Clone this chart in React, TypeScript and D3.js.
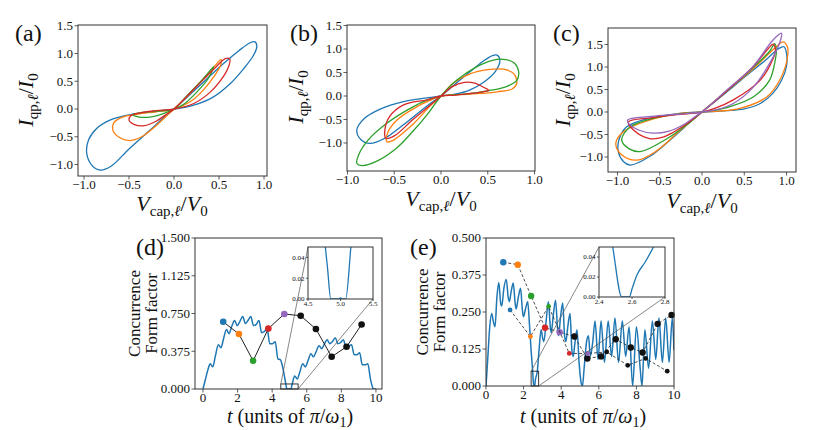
import React from "react";
import * as d3 from "d3";

type P = [number, number];
const C = { blue: "#1f77b4", orange: "#ff7f0e", green: "#2ca02c", red: "#d62728", purple: "#9467bd" };
const FONT = "'Liberation Serif', 'DejaVu Serif', 'Times New Roman', serif";

// ---------- Panel (a) loops ----------
const aBlue: P[] = [[0,0],[0.15,0.22],[0.35,0.52],[0.55,0.82],[0.72,1.05],[0.84,1.19],[0.9,1.21],[0.92,1.12],[0.88,0.96],[0.77,0.72],[0.62,0.45],[0.42,0.2],[0.2,0.06],
  [0,0],[-0.2,-0.04],[-0.45,-0.09],[-0.7,-0.19],[-0.86,-0.35],[-0.95,-0.56],[-0.97,-0.8],[-0.91,-1.02],[-0.82,-1.1],[-0.7,-1.03],[-0.5,-0.72],[-0.28,-0.4],[-0.12,-0.16]];
const aOrange: P[] = [[0,0],[0.15,0.24],[0.3,0.5],[0.45,0.77],[0.52,0.89],[0.52,0.8],[0.45,0.6],[0.33,0.35],[0.18,0.13],
  [0,0],[-0.2,-0.05],[-0.4,-0.09],[-0.58,-0.15],[-0.67,-0.25],[-0.68,-0.38],[-0.61,-0.51],[-0.5,-0.57],[-0.36,-0.5],[-0.2,-0.3],[-0.08,-0.12]];
const aGreen: P[] = [[0,0],[0.15,0.25],[0.3,0.5],[0.44,0.76],[0.38,0.55],[0.25,0.3],[0.12,0.1],
  [0,0],[-0.2,-0.04],[-0.38,-0.07],[-0.46,-0.1],[-0.4,-0.14],[-0.25,-0.14],[-0.1,-0.07]];
const aRed: P[] = [[0,0],[0.15,0.24],[0.32,0.52],[0.48,0.78],[0.57,0.91],[0.62,0.9],[0.6,0.74],[0.52,0.52],[0.4,0.3],[0.22,0.1],
  [0,0],[-0.2,-0.03],[-0.38,-0.07],[-0.48,-0.12],[-0.5,-0.2],[-0.44,-0.28],[-0.33,-0.3],[-0.2,-0.22],[-0.08,-0.09]];

// ---------- Panel (b) loops ----------
const bBlue: P[] = [[0,0],[0.15,0.25],[0.3,0.5],[0.45,0.74],[0.55,0.86],[0.6,0.87],[0.63,0.76],[0.58,0.52],[0.46,0.3],[0.3,0.12],[0.15,0.04],
  [0,0],[-0.15,-0.04],[-0.4,-0.12],[-0.65,-0.28],[-0.82,-0.48],[-0.9,-0.72],[-0.86,-0.92],[-0.76,-1.01],[-0.6,-0.9],[-0.42,-0.64],[-0.25,-0.37],[-0.1,-0.14]];
const bGreen: P[] = [[0,0],[0.17,0.34],[0.38,0.62],[0.55,0.76],[0.67,0.78],[0.78,0.71],[0.83,0.52],[0.81,0.33],[0.7,0.2],[0.5,0.11],[0.25,0.04],
  [0,0],[-0.15,-0.09],[-0.3,-0.23],[-0.58,-0.58],[-0.78,-0.94],[-0.88,-1.25],[-0.9,-1.43],[-0.84,-1.48],[-0.68,-1.38],[-0.47,-1.1],[-0.3,-0.75],[-0.15,-0.4]];
const bOrange: P[] = [[0,0],[0.13,0.27],[0.31,0.47],[0.5,0.56],[0.67,0.57],[0.78,0.47],[0.81,0.27],[0.76,0.15],[0.6,0.09],[0.31,0.04],
  [0,0],[-0.1,-0.08],[-0.26,-0.23],[-0.47,-0.51],[-0.57,-0.78],[-0.58,-0.97],[-0.53,-0.96],[-0.3,-0.6],[-0.12,-0.22]];
const bRed: P[] = [[0,0],[0.12,0.2],[0.25,0.29],[0.35,0.28],[0.47,0.17],[0.51,0.12],[0.45,0.09],[0.3,0.05],[0.15,0.02],
  [0,0],[-0.15,-0.08],[-0.4,-0.19],[-0.55,-0.44],[-0.6,-0.72],[-0.59,-0.9],[-0.5,-0.85],[-0.3,-0.5],[-0.12,-0.2]];

// ---------- Panel (c) loops ----------
const cBlue: P[] = [[0,0],[0.25,0.38],[0.5,0.77],[0.75,1.15],[0.9,1.4],[0.97,1.45],[1.0,1.3],[1.0,1.02],[0.94,0.7],[0.84,0.42],[0.69,0.19],[0.5,0.07],[0.29,0.03],[0.12,0.01],
  [0,0],[-0.26,-0.03],[-0.62,-0.14],[-0.89,-0.33],[-0.98,-0.6],[-0.99,-0.88],[-0.93,-1.1],[-0.85,-1.18],[-0.62,-0.99],[-0.34,-0.56],[-0.12,-0.19]];
const cOrange: P[] = [[0,0],[0.3,0.48],[0.6,0.95],[0.85,1.4],[0.96,1.56],[1.01,1.45],[1.01,1.2],[0.92,0.71],[0.77,0.34],[0.45,0.08],[0.2,0.02],
  [0,0],[-0.3,-0.04],[-0.73,-0.25],[-0.95,-0.47],[-1.02,-0.7],[-0.95,-0.95],[-0.77,-1.07],[-0.55,-0.88],[-0.3,-0.48],[-0.12,-0.19]];
const cGreen: P[] = [[0,0],[0.3,0.48],[0.6,0.98],[0.8,1.35],[0.86,1.52],[0.88,1.35],[0.87,1.19],[0.8,0.71],[0.61,0.34],[0.33,0.12],[0.15,0.04],
  [0,0],[-0.3,-0.05],[-0.6,-0.15],[-0.85,-0.33],[-0.95,-0.62],[-0.86,-0.82],[-0.73,-0.88],[-0.42,-0.6],[-0.15,-0.24]];
const cRed: P[] = [[0,0],[0.3,0.48],[0.6,1.0],[0.78,1.4],[0.84,1.51],[0.87,1.38],[0.85,1.23],[0.69,0.71],[0.37,0.27],[0.15,0.08],
  [0,0],[-0.3,-0.06],[-0.6,-0.13],[-0.87,-0.22],[-0.81,-0.4],[-0.62,-0.59],[-0.45,-0.55],[-0.34,-0.45],[-0.15,-0.22]];
const cPurple: P[] = [[0,0],[0.3,0.5],[0.6,1.0],[0.84,1.6],[0.94,1.75],[0.93,1.6],[0.8,1.08],[0.61,0.56],[0.37,0.19],[0.15,0.04],
  [0,0],[-0.3,-0.05],[-0.6,-0.1],[-0.88,-0.18],[-0.86,-0.27],[-0.75,-0.4],[-0.58,-0.47],[-0.4,-0.43],[-0.2,-0.26],[-0.08,-0.1]];

// ---------- Panel (d) ----------
const dCurve: P[] = [[0,0],[0.15,0.1],[0.3,0.2],[0.42,0.25],[0.57,0.22],[0.72,0.33],[0.89,0.44],[1.04,0.41],[1.19,0.5],[1.36,0.59],[1.51,0.55],[1.66,0.62],[1.83,0.68],[1.98,0.63],[2.13,0.67],[2.3,0.72],[2.45,0.65],[2.6,0.68],[2.77,0.72],[2.92,0.63],[3.07,0.64],[3.24,0.68],[3.39,0.56],[3.54,0.57],[3.71,0.6],[3.86,0.45],[4.01,0.45],[4.18,0.47],[4.33,0.3],[4.48,0.29],[4.63,0.2],[4.8,0.04],[4.85,0],[4.97,0],[5.0,0.001],[5.03,0],[5.08,0],[5.16,0.05],[5.3,0.13],[5.45,0.1],[5.6,0.17],[5.77,0.25],[5.92,0.22],[6.07,0.28],[6.24,0.35],[6.39,0.32],[6.54,0.37],[6.71,0.43],[6.86,0.4],[7.0,0.44],[7.18,0.49],[7.33,0.45],[7.48,0.47],[7.65,0.51],[7.8,0.45],[7.95,0.46],[8.12,0.49],[8.27,0.41],[8.42,0.42],[8.59,0.44],[8.74,0.34],[8.89,0.34],[9.06,0.36],[9.21,0.24],[9.36,0.24],[9.53,0.25],[9.68,0.1],[9.8,0.02],[9.85,0],[10,0]];
const dT = [1.17, 2.08, 2.9, 3.78, 4.7, 5.65, 6.53, 7.44, 8.3, 9.17];
const dF = [0.668, 0.546, 0.28, 0.6, 0.745, 0.728, 0.596, 0.32, 0.42, 0.64];
const dInsetCurve: P[] = [[4.7,0.09],[4.8,0.03],[4.85,0],[4.97,0],[5.0,0.001],[5.03,0],[5.08,0],[5.16,0.05],[5.22,0.09]];

// ---------- Panel (e) ----------
const eCurve: P[] = [[0,0],[0.1,0.1],[0.2,0.2],[0.3,0.245],[0.4,0.215],[0.48,0.2],[0.58,0.3],[0.68,0.35],[0.78,0.28],[0.84,0.27],[0.95,0.33],[1.08,0.36],[1.18,0.3],[1.24,0.285],[1.34,0.32],[1.45,0.348],[1.55,0.28],[1.6,0.26],[1.72,0.3],[1.84,0.33],[1.93,0.26],[1.99,0.234],[2.1,0.26],[2.22,0.285],[2.3,0.22],[2.4,0.12],[2.483,0.05],[2.538,0],[2.584,0],[2.63,0.022],[2.73,0.05],[2.82,0.12],[2.93,0.19],[3.02,0.16],[3.08,0.15],[3.2,0.22],[3.32,0.285],[3.42,0.2],[3.47,0.18],[3.58,0.24],[3.7,0.29],[3.8,0.2],[3.86,0.17],[3.96,0.23],[4.08,0.28],[4.18,0.17],[4.25,0.15],[4.35,0.2],[4.47,0.245],[4.57,0.12],[4.64,0.1],[4.72,0.14],[4.84,0.19],[4.95,0.08],[5.05,0.015],[5.13,0],[5.22,0.06],[5.35,0.15],[5.45,0.17],[5.55,0.1],[5.68,0.15],[5.8,0.22],[5.96,0.09],[6.12,0.22],[6.3,0.08],[6.5,0.22],[6.68,0.1],[6.86,0.23],[7.05,0.08],[7.25,0.22],[7.43,0.1],[7.61,0.2],[7.8,0],[8.0,0.2],[8.2,0.06],[8.3,0],[8.45,0.19],[8.65,0.06],[8.85,0.22],[9.03,0.09],[9.2,0.23],[9.38,0.08],[9.56,0.23],[9.74,0.08],[9.91,0.23],[10,0.12]];
const eT1 = [0.92, 1.69, 2.4, 3.14, 3.92, 4.7, 5.39, 6.12, 6.9, 7.7, 8.33, 9.13, 9.87];
const eC1 = [0.418, 0.41, 0.304, 0.197, 0.182, 0.167, 0.093, 0.1, 0.158, 0.13, 0.113, 0.21, 0.24];
const eT2 = [1.28, 2.36, 3.33, 4.43, 5.41, 6.42, 7.54, 8.49, 9.64];
const eC2 = [0.257, 0.167, 0.269, 0.11, 0.11, 0.115, 0.07, 0.093, 0.05];
const eInsetCurve: P[] = [[2.45,0.08],[2.483,0.05],[2.538,0],[2.584,0],[2.6,0.008],[2.63,0.022],[2.68,0.035],[2.73,0.05],[2.76,0.06]];

// ---------- ticks ----------
const loopXTicks = [-1, -0.5, 0, 0.5, 1];
const loopYTicks = [-1, -0.5, 0, 0.5, 1, 1.5];
const tTicks = [0, 2, 4, 6, 8, 10];
const dYTicks = [0, 0.375, 0.75, 1.125, 1.5];
const eYTicks = [0, 0.125, 0.25, 0.375, 0.5];
const dInsetXTicks = [4.5, 5.0, 5.5];
const eInsetXTicks = [2.4, 2.6, 2.8];
const insetYTicks = [0, 0.02, 0.04];

const markerColors = [C.blue, C.orange, C.green, C.red, C.purple];
const mColor = (i: number) => markerColors[i] || "#111";

type Box = { x0: number; x1: number; y0: number; y1: number };

function Frame({ box, x, y, xTicks, yTicks, xf, yf, fs, tick = 3.5 }: any) {
  return (
    <g>
      <rect x={box.x0} y={box.y0} width={box.x1 - box.x0} height={box.y1 - box.y0} fill="none" stroke="#333" strokeWidth={1} />
      {xTicks.map((t: number, i: number) => (
        <g key={"x" + i}>
          <line x1={x(t)} x2={x(t)} y1={box.y1} y2={box.y1 + tick} stroke="#333" strokeWidth={0.8} />
          <text x={x(t)} y={box.y1 + tick + fs * 0.72} fontSize={fs} textAnchor="middle" fontFamily={FONT} fill="#111">{xf(t)}</text>
        </g>
      ))}
      {yTicks.map((t: number, i: number) => (
        <g key={"y" + i}>
          <line x1={box.x0 - tick} x2={box.x0} y1={y(t)} y2={y(t)} stroke="#333" strokeWidth={0.8} />
          <text x={box.x0 - tick - 1.5} y={y(t) + fs * 0.33} fontSize={fs} textAnchor="end" fontFamily={FONT} fill="#111">{yf(t)}</text>
        </g>
      ))}
    </g>
  );
}

function LoopPanel({ box, xd, yd, loops, label, labelPos, ylab, xlab }: any) {
  const x = d3.scaleLinear().domain(xd).range([box.x0, box.x1]);
  const y = d3.scaleLinear().domain(yd).range([box.y1, box.y0]);
  const gen = d3.line<P>().x(d => x(d[0])).y(d => y(d[1])).curve(d3.curveCatmullRomClosed.alpha(0.5));
  const f1 = d3.format(".1f");
  return (
    <g>
      {loops.map((l: any, i: number) => (
        <path key={i} d={gen(l.data) || ""} fill="none" stroke={l.color} strokeWidth={1.3} />
      ))}
      <Frame box={box} x={x} y={y} xTicks={loopXTicks} yTicks={loopYTicks} xf={f1} yf={f1} fs={13} />
      <text x={labelPos[0]} y={labelPos[1]} fontSize={24} fontFamily={FONT} fill="#111">{label}</text>
      <text transform={`translate(${ylab[0]},${ylab[1]}) rotate(-90)`} textAnchor="middle" fontSize={22} fontFamily={FONT} fill="#111">
        <tspan fontStyle="italic">I</tspan>
        <tspan fontSize={15} dy={5}>qp,</tspan>
        <tspan fontSize={15} fontStyle="italic">ℓ</tspan>
        <tspan dy={-5}>/</tspan>
        <tspan fontStyle="italic">I</tspan>
        <tspan fontSize={15} dy={5}>0</tspan>
      </text>
      <text x={xlab[0]} y={xlab[1]} textAnchor="middle" fontSize={22} fontFamily={FONT} fill="#111">
        <tspan fontStyle="italic">V</tspan>
        <tspan fontSize={15} dy={5}>cap,</tspan>
        <tspan fontSize={15} fontStyle="italic">ℓ</tspan>
        <tspan dy={-5}>/</tspan>
        <tspan fontStyle="italic">V</tspan>
        <tspan fontSize={15} dy={5}>0</tspan>
      </text>
    </g>
  );
}

function TimePanel({ id, box, xd, yd, yTicks, curve, series, inset, label, labelPos, ylabX, xlabX }: any) {
  const x = d3.scaleLinear().domain(xd).range([box.x0, box.x1]);
  const y = d3.scaleLinear().domain(yd).range([box.y1, box.y0]);
  const gen = d3.line<P>().x(d => x(d[0])).y(d => y(d[1])).curve(d3.curveMonotoneX);
  const yf = d3.format(".3f");
  const xf = d3.format("d");
  const ib: Box = inset.box;
  const ix = d3.scaleLinear().domain(inset.xd).range([ib.x0, ib.x1]);
  const iy = d3.scaleLinear().domain([0, 0.05]).range([ib.y1, ib.y0]);
  const igen = d3.line<P>().x(d => ix(d[0])).y(d => iy(d[1])).curve(d3.curveMonotoneX);
  const rx0 = x(inset.xd[0]), rx1 = x(inset.xd[1]), ry0 = y(0.05), ry1 = y(0);
  return (
    <g>
      <defs>
        <clipPath id={id + "clip"}><rect x={box.x0} y={box.y0} width={box.x1 - box.x0} height={box.y1 - box.y0} /></clipPath>
        <clipPath id={id + "iclip"}><rect x={ib.x0} y={ib.y0} width={ib.x1 - ib.x0} height={ib.y1 - ib.y0} /></clipPath>
      </defs>
      <path d={gen(curve) || ""} fill="none" stroke={C.blue} strokeWidth={1.5} clipPath={`url(#${id}clip)`} />
      {series.map((s: any, si: number) => {
        const pts: P[] = s.t.map((t: number, i: number) => [t, s.v[i]]);
        const lg = d3.line<P>().x(d => x(d[0])).y(d => y(d[1]));
        return (
          <g key={si}>
            <path d={lg(pts) || ""} fill="none" stroke="#222" strokeWidth={s.dash ? 0.8 : 1} strokeDasharray={s.dash ? "3,2" : undefined} />
            {pts.map((p, i) => (
              <g key={i}>
                {s.err > 0 && <line x1={x(p[0])} x2={x(p[0])} y1={y(p[1] - s.err)} y2={y(p[1] + s.err)} stroke={mColor(i)} strokeWidth={1} opacity={0.7} />}
                <circle cx={x(p[0])} cy={y(p[1])} r={s.r} fill={mColor(i)} />
              </g>
            ))}
          </g>
        );
      })}
      <rect x={rx0} y={ry0} width={rx1 - rx0} height={ry1 - ry0} fill="none" stroke="#222" strokeWidth={0.9} />
      <line x1={rx0} y1={ry0} x2={ib.x0} y2={ib.y0} stroke="#555" strokeWidth={0.7} />
      <line x1={rx1} y1={ry1} x2={ib.x1} y2={ib.y1} stroke="#555" strokeWidth={0.7} />
      <rect x={ib.x0} y={ib.y0} width={ib.x1 - ib.x0} height={ib.y1 - ib.y0} fill="#fff" />
      <path d={igen(inset.curve) || ""} fill="none" stroke={C.blue} strokeWidth={1.3} clipPath={`url(#${id}iclip)`} />
      <Frame box={ib} x={ix} y={iy} xTicks={inset.xTicks} yTicks={insetYTicks} xf={d3.format(".1f")} yf={d3.format(".2f")} fs={7} tick={2} />
      <Frame box={box} x={x} y={y} xTicks={tTicks} yTicks={yTicks} xf={xf} yf={yf} fs={13} />
      <text x={labelPos[0]} y={labelPos[1]} fontSize={24} fontFamily={FONT} fill="#111">{label}</text>
      <text transform={`translate(${ylabX[0]},${(box.y0 + box.y1) / 2}) rotate(-90)`} textAnchor="middle" fontSize={17} fontFamily={FONT} fill="#111">Concurrence</text>
      <text transform={`translate(${ylabX[1]},${(box.y0 + box.y1) / 2}) rotate(-90)`} textAnchor="middle" fontSize={17} fontFamily={FONT} fill="#111">Form factor</text>
      <text x={xlabX} y={423} textAnchor="middle" fontSize={20} fontFamily={FONT} fill="#111">
        <tspan fontStyle="italic">t</tspan>
        <tspan> (units of </tspan>
        <tspan fontStyle="italic">π</tspan>
        <tspan>/</tspan>
        <tspan fontStyle="italic">ω</tspan>
        <tspan fontSize={14} dy={4}>1</tspan>
        <tspan dy={-4}>)</tspan>
      </text>
    </g>
  );
}

export default function App() {
  return (
    <svg width={831} height={430} viewBox="0 0 831 430" style={{ position: "absolute", left: 0, top: 0, background: "#fff" }}>
      <rect x={0} y={0} width={831} height={430} fill="#fff" />
      <LoopPanel box={{ x0: 78, x1: 267, y0: 25, y1: 176 }} xd={[-1.067, 1.033]} yd={[-1.207, 1.514]}
        loops={[{ data: aBlue, color: C.blue }, { data: aOrange, color: C.orange }, { data: aGreen, color: C.green }, { data: aRed, color: C.red }]}
        label="(a)" labelPos={[15, 41]} ylab={[33, 100]} xlab={[172, 211]} />
      <LoopPanel box={{ x0: 347, x1: 535, y0: 25, y1: 171 }} xd={[-1.005, 1.005]} yd={[-1.596, 1.511]}
        loops={[{ data: bBlue, color: C.blue }, { data: bOrange, color: C.orange }, { data: bGreen, color: C.green }, { data: bRed, color: C.red }]}
        label="(b)" labelPos={[290, 41]} ylab={[303, 97]} xlab={[441, 206]} />
      <LoopPanel box={{ x0: 608, x1: 796, y0: 28, y1: 172 }} xd={[-1.112, 1.112]} yd={[-1.333, 1.867]}
        loops={[{ data: cBlue, color: C.blue }, { data: cOrange, color: C.orange }, { data: cGreen, color: C.green }, { data: cRed, color: C.red }, { data: cPurple, color: C.purple }]}
        label="(c)" labelPos={[553, 41]} ylab={[570, 100]} xlab={[702, 208]} />
      <TimePanel id="d" box={{ x0: 195, x1: 382, y0: 238, y1: 389 }} xd={[-0.46, 10.35]} yd={[0, 1.5]} yTicks={dYTicks}
        curve={dCurve}
        series={[{ t: dT, v: dF, r: 3.3, err: 0.02, dash: false }]}
        inset={{ box: { x0: 308, x1: 373, y0: 247, y1: 299 }, xd: [4.5, 5.5], curve: dInsetCurve, xTicks: dInsetXTicks }}
        label="(d)" labelPos={[136, 255]} ylabX={[140, 157]} xlabX={290} />
      <TimePanel id="e" box={{ x0: 486, x1: 674, y0: 238, y1: 386 }} xd={[0, 10]} yd={[0, 0.5]} yTicks={eYTicks}
        curve={eCurve}
        series={[{ t: eT1, v: eC1, r: 3.2, err: 0.01, dash: true }, { t: eT2, v: eC2, r: 2.4, err: 0, dash: true }]}
        inset={{ box: { x0: 599, x1: 665, y0: 247, y1: 297 }, xd: [2.4, 2.8], curve: eInsetCurve, xTicks: eInsetXTicks }}
        label="(e)" labelPos={[410, 255]} ylabX={[428, 445]} xlabX={583} />
    </svg>
  );
}
